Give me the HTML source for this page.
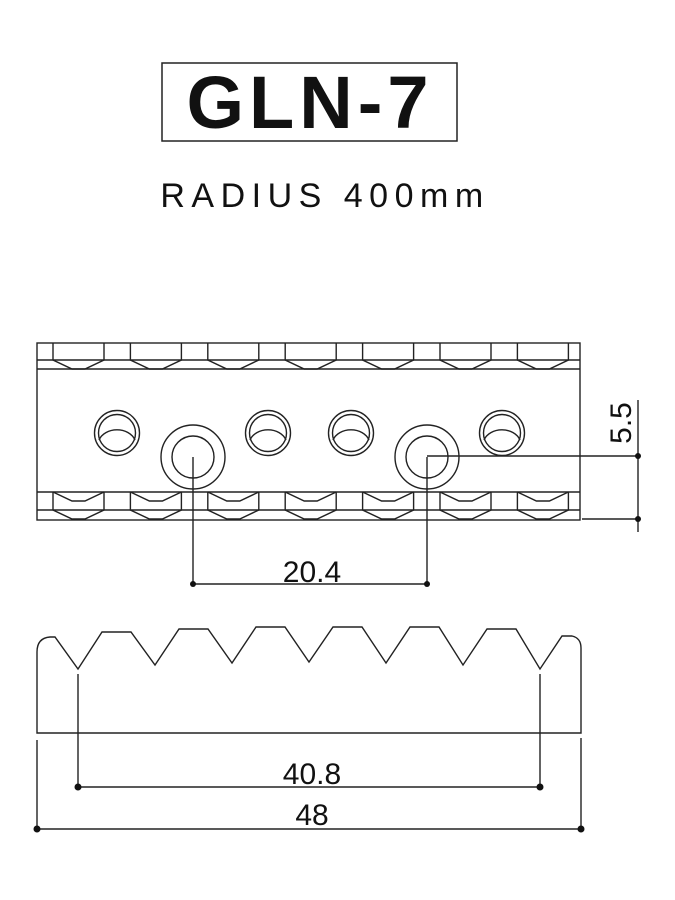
<!DOCTYPE html>
<html><head><meta charset="utf-8"><style>
body{margin:0;background:#fff;}
svg{display:block;}
text{font-family:"Liberation Sans",sans-serif;fill:#111;}
</style></head><body>
<svg width="675" height="900" viewBox="0 0 675 900" xmlns="http://www.w3.org/2000/svg">
<rect x="162" y="63" width="295" height="78" fill="none" stroke="#222" stroke-width="1.5"/>
<text x="310" y="128" font-size="74" font-weight="bold" text-anchor="middle" letter-spacing="5">GLN-7</text>
<text x="325" y="207" font-size="34" text-anchor="middle" letter-spacing="6.5">RADIUS 400mm</text>

<g fill="none" stroke="#222" stroke-width="1.4">
<rect x="37" y="343" width="543" height="177"/>
<line x1="37" y1="360" x2="580" y2="360"/>
<line x1="37" y1="369" x2="580" y2="369"/>
<line x1="37" y1="492" x2="580" y2="492"/>
<line x1="37" y1="510" x2="580" y2="510"/>
<g id="slot">
<path d="M53,343V360L72,369H85L104,360V343"/>
<path d="M53,492V510L72,519H85L104,510V492"/>
<path d="M53,492L72,501H85L104,492"/>
</g>
<use href="#slot" x="77.4"/>
<use href="#slot" x="154.8"/>
<use href="#slot" x="232.2"/>
<use href="#slot" x="309.6"/>
<use href="#slot" x="387"/>
<use href="#slot" x="464.4"/>
<g id="sh">
<circle cx="117" cy="433" r="22.5"/>
<circle cx="117" cy="433" r="18.5"/>
<path d="M99,440 A19,15 0 0 1 135,440"/>
</g>
<use href="#sh" x="151"/>
<use href="#sh" x="234"/>
<use href="#sh" x="385"/>
<circle cx="193" cy="457" r="32"/>
<circle cx="193" cy="457" r="21"/>
<circle cx="427" cy="457" r="32"/>
<circle cx="427" cy="457" r="21"/>

<path d="M37,733V652Q37,638 50,637L55,637L78,669L102,632H131L155,665L179,629H208L232,663L256,627H285L309,662L333,627H362L386,663L410,627H439L463,665L487,629H516L540,669L562,636H572Q581,638 581,648V733Z"/>
</g>

<g stroke="#222" stroke-width="1.4" fill="#111">
<line x1="193" y1="457" x2="193" y2="585"/>
<line x1="427" y1="457" x2="427" y2="585"/>
<line x1="193" y1="584" x2="427" y2="584"/>
<circle cx="193" cy="584" r="3" stroke="none"/>
<circle cx="427" cy="584" r="3" stroke="none"/>
<line x1="427" y1="456" x2="640" y2="456"/>
<line x1="582" y1="519" x2="640" y2="519"/>
<line x1="638" y1="400" x2="638" y2="532"/>
<circle cx="638" cy="456" r="3" stroke="none"/>
<circle cx="638" cy="519" r="3" stroke="none"/>
<line x1="78" y1="674" x2="78" y2="788"/>
<line x1="540" y1="674" x2="540" y2="788"/>
<line x1="78" y1="787" x2="540" y2="787"/>
<circle cx="78" cy="787" r="3.5" stroke="none"/>
<circle cx="540" cy="787" r="3.5" stroke="none"/>
<line x1="37" y1="740" x2="37" y2="830"/>
<line x1="581" y1="738" x2="581" y2="830"/>
<line x1="37" y1="829" x2="581" y2="829"/>
<circle cx="37" cy="829" r="3.5" stroke="none"/>
<circle cx="581" cy="829" r="3.5" stroke="none"/>
</g>
<text x="312" y="582" font-size="30" text-anchor="middle">20.4</text>
<text x="312" y="784" font-size="30" text-anchor="middle">40.8</text>
<text x="312" y="825" font-size="30" text-anchor="middle">48</text>
<text transform="translate(631,423) rotate(-90)" font-size="30" text-anchor="middle">5.5</text>
</svg>
</body></html>
